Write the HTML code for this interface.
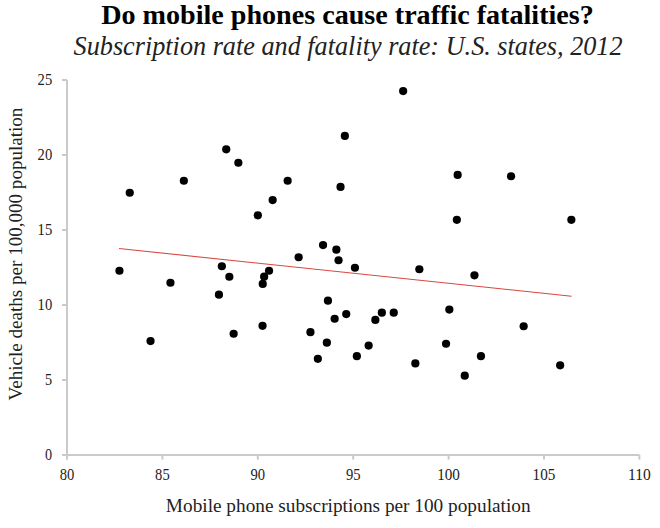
<!DOCTYPE html>
<html><head><meta charset="utf-8"><style>
html,body{margin:0;padding:0;background:#fff;width:660px;height:528px;overflow:hidden}
svg{display:block}
text{font-family:"Liberation Serif",serif;fill:#222}
</style></head><body>
<svg width="660" height="528" viewBox="0 0 660 528">
<text x="347.5" y="24" text-anchor="middle" font-weight="bold" font-size="27.2" style="fill:#000" textLength="492.6" lengthAdjust="spacingAndGlyphs">Do mobile phones cause traffic fatalities?</text>
<text x="348.1" y="54.7" text-anchor="middle" font-style="italic" font-size="26.6" textLength="549" lengthAdjust="spacingAndGlyphs">Subscription rate and fatality rate: U.S. states, 2012</text>
<g stroke="#cacaca" stroke-width="2" fill="none">
<path d="M67 80V459.6"/>
<path d="M62 455H639.4"/>
<path d="M62 455H67"/><path d="M62 380H67"/><path d="M62 305H67"/><path d="M62 230H67"/><path d="M62 155H67"/><path d="M62 80H67"/><path d="M67.0 455V459.6"/><path d="M162.4 455V459.6"/><path d="M257.8 455V459.6"/><path d="M353.2 455V459.6"/><path d="M448.6 455V459.6"/><path d="M544.0 455V459.6"/><path d="M639.4 455V459.6"/>
</g>
<g font-size="16.3"><text x="45.1" y="459.6" textLength="7.1" lengthAdjust="spacingAndGlyphs">0</text><text x="45.1" y="384.6" textLength="7.1" lengthAdjust="spacingAndGlyphs">5</text><text x="37.6" y="309.6" textLength="14.6" lengthAdjust="spacingAndGlyphs">10</text><text x="37.6" y="234.6" textLength="14.6" lengthAdjust="spacingAndGlyphs">15</text><text x="37.6" y="159.6" textLength="14.6" lengthAdjust="spacingAndGlyphs">20</text><text x="37.6" y="84.6" textLength="14.6" lengthAdjust="spacingAndGlyphs">25</text><text x="59.7" y="479.7" textLength="14.6" lengthAdjust="spacingAndGlyphs">80</text><text x="155.1" y="479.7" textLength="14.6" lengthAdjust="spacingAndGlyphs">85</text><text x="250.5" y="479.7" textLength="14.6" lengthAdjust="spacingAndGlyphs">90</text><text x="345.9" y="479.7" textLength="14.6" lengthAdjust="spacingAndGlyphs">95</text><text x="437.2" y="479.7" textLength="22.7" lengthAdjust="spacingAndGlyphs">100</text><text x="532.6" y="479.7" textLength="22.7" lengthAdjust="spacingAndGlyphs">105</text><text x="628.1" y="479.7" textLength="22.7" lengthAdjust="spacingAndGlyphs">110</text></g>
<text transform="translate(22.4,254) rotate(-90)" text-anchor="middle" font-size="18" textLength="292.8" lengthAdjust="spacingAndGlyphs">Vehicle deaths per 100,000 population</text>
<text x="348.2" y="511.6" text-anchor="middle" font-size="18" textLength="364.7" lengthAdjust="spacingAndGlyphs">Mobile phone subscriptions per 100 population</text>
<path d="M119 248.5L571.6 296.2" stroke="#d8473f" stroke-width="1.1" fill="none"/>
<g fill="#000"><circle cx="119.45" cy="270.75" r="4.1"/><circle cx="129.75" cy="192.75" r="4.1"/><circle cx="150.55" cy="341.05" r="4.1"/><circle cx="170.45" cy="282.75" r="4.1"/><circle cx="183.85" cy="180.75" r="4.1"/><circle cx="218.95" cy="294.65" r="4.1"/><circle cx="221.85" cy="266.25" r="4.1"/><circle cx="226.25" cy="149.35" r="4.1"/><circle cx="229.35" cy="276.75" r="4.1"/><circle cx="233.65" cy="333.75" r="4.1"/><circle cx="238.35" cy="162.75" r="4.1"/><circle cx="257.85" cy="215.35" r="4.1"/><circle cx="262.55" cy="325.85" r="4.1"/><circle cx="262.75" cy="283.95" r="4.1"/><circle cx="264.15" cy="276.65" r="4.1"/><circle cx="269.05" cy="270.75" r="4.1"/><circle cx="272.65" cy="200.05" r="4.1"/><circle cx="287.65" cy="180.75" r="4.1"/><circle cx="298.65" cy="257.25" r="4.1"/><circle cx="310.45" cy="332.15" r="4.1"/><circle cx="317.85" cy="358.85" r="4.1"/><circle cx="323.05" cy="245.05" r="4.1"/><circle cx="326.85" cy="342.65" r="4.1"/><circle cx="327.95" cy="300.65" r="4.1"/><circle cx="334.65" cy="318.75" r="4.1"/><circle cx="336.35" cy="249.65" r="4.1"/><circle cx="338.55" cy="260.25" r="4.1"/><circle cx="340.55" cy="186.95" r="4.1"/><circle cx="344.85" cy="135.95" r="4.1"/><circle cx="346.25" cy="314.05" r="4.1"/><circle cx="354.95" cy="267.75" r="4.1"/><circle cx="356.85" cy="356.15" r="4.1"/><circle cx="368.65" cy="345.55" r="4.1"/><circle cx="375.35" cy="319.95" r="4.1"/><circle cx="381.85" cy="312.65" r="4.1"/><circle cx="393.75" cy="312.65" r="4.1"/><circle cx="403.15" cy="91.05" r="4.1"/><circle cx="415.35" cy="363.45" r="4.1"/><circle cx="419.35" cy="269.25" r="4.1"/><circle cx="446.05" cy="343.75" r="4.1"/><circle cx="449.35" cy="309.55" r="4.1"/><circle cx="457.65" cy="174.95" r="4.1"/><circle cx="456.85" cy="219.85" r="4.1"/><circle cx="464.75" cy="375.65" r="4.1"/><circle cx="474.45" cy="275.35" r="4.1"/><circle cx="480.95" cy="356.15" r="4.1"/><circle cx="511.05" cy="176.25" r="4.1"/><circle cx="523.65" cy="326.25" r="4.1"/><circle cx="560.15" cy="365.35" r="4.1"/><circle cx="571.35" cy="219.85" r="4.1"/></g>
</svg>
</body></html>
